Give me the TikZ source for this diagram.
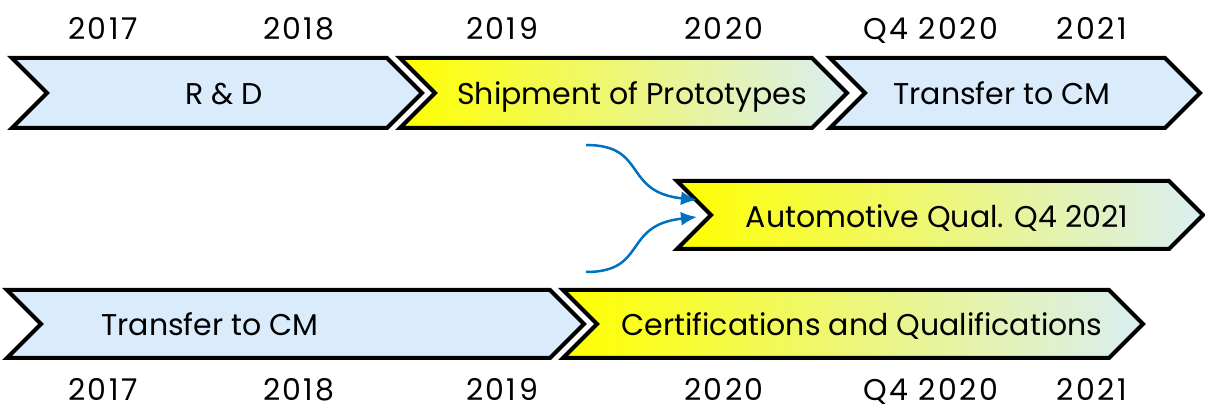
\documentclass[tikz,border=0pt]{standalone}
\usepackage{fontspec}
\setmainfont{Poppins}
\newfontfamily\yearfont[LetterSpace=8]{Poppins}
\usetikzlibrary{shapes.symbols,arrows.meta}
\definecolor{chevblue}{RGB}{218,236,252}
\definecolor{chevend}{RGB}{218,238,243}
\definecolor{chevyellow}{RGB}{255,255,0}
\definecolor{arrowblue}{RGB}{0,112,192}
\tikzset{
  chev/.style={signal, signal to=east, signal from=west, draw=black, line width=4pt,
    inner sep=0pt, line join=miter},
  bluechev/.style={chev, fill=chevblue},
  yelchev/.style={chev, left color=chevyellow, middle color=chevyellow, right color=chevend},
  lbl/.style={font=\fontsize{30}{33}\selectfont, anchor=base, inner sep=0pt},
  yr/.style={font=\yearfont\fontsize{30}{33}\selectfont, anchor=base, inner sep=0pt},
  flow/.style={draw=arrowblue, line width=2.5pt, -{Latex[length=16pt,width=14pt]}},
}
\begin{document}
\begin{tikzpicture}[x=1pt,y=-1pt]
\useasboundingbox (0,0) rectangle (1205,411);
% top row
\node[bluechev, minimum width=410pt, minimum height=70pt] (c1) at (217,93) {};
\node[yelchev, minimum width=447pt, minimum height=70pt] (c2) at (623.5,93) {};
\node[bluechev, minimum width=370pt, minimum height=70pt] (c3) at (1015,93) {};
% middle
\node[yelchev, minimum width=526pt, minimum height=68pt] (cm) at (940,215) {};
% bottom row
\node[bluechev, minimum width=577pt, minimum height=68pt] (c4) at (295.5,324) {};
\node[yelchev, minimum width=580pt, minimum height=68pt] (c5) at (853,324) {};
% labels
\node[lbl] (l1) at (224,105) {R \& D};
\node[lbl] (l2) at (632,105) {Shipment of Prototypes};
\node[lbl] (l3) at (1002,105) {Transfer to CM};
\node[lbl] (lm) at (937,228) {Automotive Qual. Q4 2021};
\node[lbl] (l4) at (210,336) {Transfer to CM};
\node[lbl] (l5) at (862,336) {Certifications and Qualifications};
% years top
\node[yr] (t1) at (103,40) {2017};
\node[yr] (t2) at (299,40) {2018};
\node[yr] (t3) at (502,40) {2019};
\node[yr] (t4) at (724,40) {2020};
\node[yr] (t5) at (931,40) {Q4 2020};
\node[yr] (t6) at (1092,40) {2021};
% years bottom
\node[yr] (b1) at (103,401) {2017};
\node[yr] (b2) at (299,401) {2018};
\node[yr] (b3) at (502,401) {2019};
\node[yr] (b4) at (724,401) {2020};
\node[yr] (b5) at (931,401) {Q4 2020};
\node[yr] (b6) at (1092,401) {2021};
% arrows
\coordinate (s1) at (586,145);
\coordinate (e1) at (697,200);
\coordinate (s2) at (586,272);
\coordinate (e2) at (697,217);
\draw[flow] (s1) .. controls (648,145) and (622,192) .. (e1);
\draw[flow] (s2) .. controls (648,272) and (622,225) .. (e2);
\end{tikzpicture}
\end{document}
